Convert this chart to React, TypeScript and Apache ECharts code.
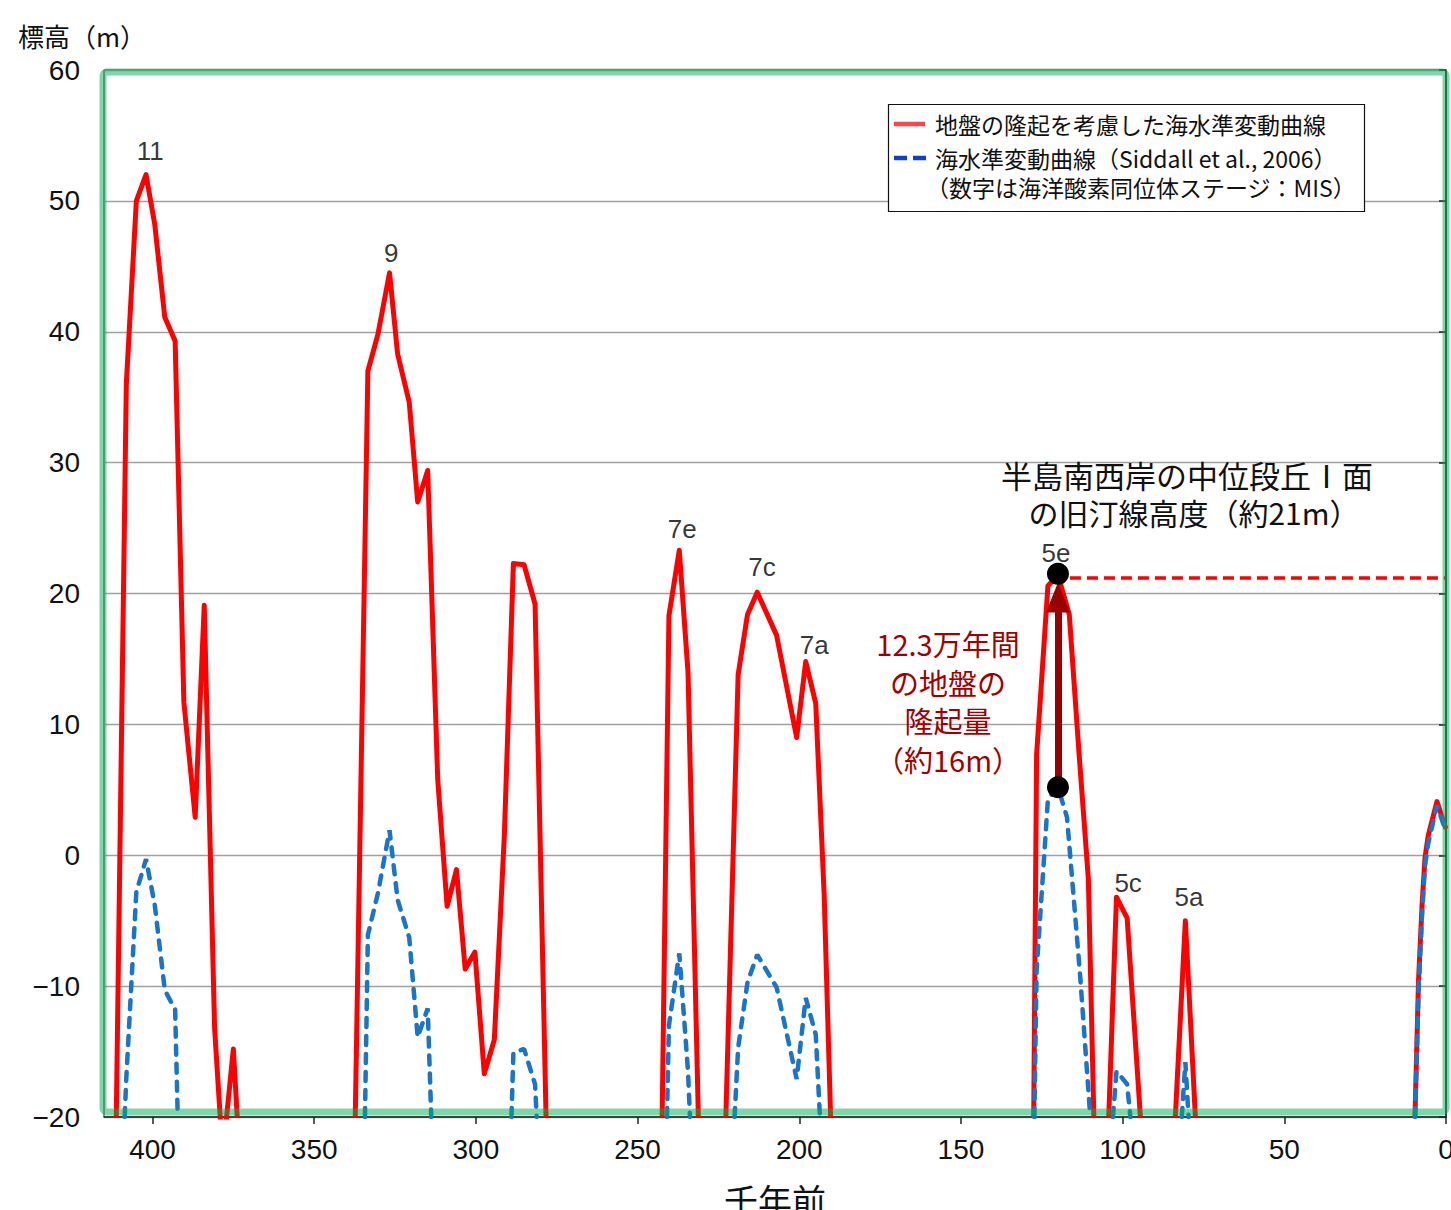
import React, { useEffect, useRef } from 'react';
import * as echarts from 'echarts';

// ---- data (age in thousand years ago, level in m) ----
const xTickValues = [0, 50, 100, 150, 200, 250, 300, 350, 400];
const yTickValues = [-20, -10, 0, 10, 20, 30, 40, 50, 60];

// sea-level curve corrected for ground uplift (null = gap)
const redAges = [
  411.2, 408.1, 405.0, 402.0, 399.3, 396.2, 393.0, 390.3, 386.8, 384.0, 380.8, 378.3, 375.0, 373.8, 355,
  337.3, 333.4, 330.3, 326.7, 324.2, 320.6, 318.0, 314.9, 311.8, 308.9, 306.0, 303.3, 300.3, 297.4, 294.3, 291.2, 288.4, 285.1, 281.7, 278.3, 260,
  242.4, 240.3, 237.1, 234.4, 231.2, 227,
  222.7, 218.9, 216.0, 213.0, 207.0, 200.8, 198.0, 194.9, 192.3, 190.3, 160,
  127.5, 126.6, 123.1, 120.0, 116.5, 113.6, 110.6, 108.9, 106,
  104.3, 101.9, 98.6, 94.5, 90,
  83.7, 80.6, 77.5, 40,
  9.6, 8.5, 7.4, 6.5, 5.5, 2.8, 0,
];
const redLevels = [
  -20, 36.0, 50.0, 52.0, 48.2, 41.1, 39.3, 11.7, 2.9, 19.1, -13.2, -23, -14.8, -20, null,
  -20, 37.0, 39.8, 44.5, 38.3, 34.6, 27.0, 29.4, 5.8, -3.9, -1.1, -8.7, -7.4, -16.7, -14.1, 1.5, 22.3, 22.2, 19.2, -20, null,
  -20, 18.3, 23.3, 14.0, -20, null,
  -20, 13.8, 18.4, 20.1, 16.8, 9.0, 14.8, 11.6, -3.0, -20, null,
  -20, 7.7, 20.6, 21.4, 18.4, 8.2, -1.8, -20, null,
  -20, -3.2, -4.8, -20, null,
  -20, -5.0, -20, null,
  -20, -9.6, -3.8, -0.2, 1.5, 4.1, 2.0,
];

// sea-level curve (Siddall et al., 2006)
const blueAges = [
  408.6, 408.1, 405.0, 402.0, 399.3, 396.2, 393.0, 392.2, 360,
  334.3, 333.4, 330.3, 326.7, 324.2, 320.6, 318.0, 314.9, 313.8, 300,
  289.0, 288.4, 285.1, 281.7, 281.2, 260,
  240.9, 240.3, 237.1, 234.4, 233.8, 226,
  220.0, 218.9, 216.0, 213.0, 207.0, 200.8, 198.0, 194.9, 193.6, 160,
  127.3, 126.6, 123.1, 120.0, 117.2, 113.2, 110.0, 106,
  103.0, 101.9, 98.6, 97.6, 90,
  81.7, 80.6, 79.6, 40,
  9.6, 8.5, 7.4, 6.5, 5.5, 2.8, 0,
];
const blueLevels = [
  -20, -17.0, -2.8, -0.3, -3.8, -10.3, -11.8, -20, null,
  -20, -6.1, -2.9, 1.9, -3.4, -6.3, -13.9, -11.7, -20, null,
  -20, -15.1, -14.8, -17.5, -20, null,
  -20, -13.0, -7.5, -16.5, -20, null,
  -20, -14.7, -9.7, -7.6, -10.1, -17.1, -10.9, -13.7, -20, null,
  -20, -8.8, 4.3, 5.2, 2.9, -9.0, -20, null,
  -20, -16.5, -17.5, -20, null,
  -20, -15.8, -20, null,
  -20, -10.4, -4.5, -0.8, 0.9, 3.8, 1.8,
];

// MIS stage labels
const misNames = ['11', '9', '7e', '7c', '7a', '5e', '5c', '5a'];
const misAges = [400.7, 326.2, 236.2, 211.5, 195.4, 120.6, 98.3, 79.5];
const misLevels = [53.8, 46.0, 24.9, 22.0, 16.1, 23.1, -2.1, -3.2];

// MIS 5e uplift annotation
const upliftAge = 120;
const upliftFrom = 5.2;
const upliftTo = 21.5;
const arrowHeadLevel = 19.7;
const shorelineLevel = 21.2;
const shorelineStartAge = 116.3;

const legendNames = [
  '地盤の隆起を考慮した海水準変動曲線',
  '海水準変動曲線（Siddall et al., 2006）',
  '（数字は海洋酸素同位体ステージ：MIS）',
];
const terraceLines = ['半島南西岸の中位段丘Ⅰ面', 'の旧汀線高度（約21m）'];
const upliftLines = ['12.3万年間', 'の地盤の', '隆起量', '（約16m）'];

const CJK = '"Noto Sans CJK JP", "Noto Sans", sans-serif';
const NUM = '"Liberation Sans", Arial, sans-serif';

function pairs(ages: number[], levels: (number | null)[]) {
  return ages.map((a, i) => [a, levels[i]]);
}

export default function App() {
  const ref = useRef<HTMLDivElement>(null);
  useEffect(() => {
    if (!ref.current) return;
    const chart = echarts.init(ref.current, null, { renderer: 'svg' });
    const graphic: any[] = [
      {
        type: 'text', x: 18, y: 35, z: 60,
        style: { text: '標高（m）', fill: '#111', font: `26px ${CJK}`, align: 'left', verticalAlign: 'middle', lineHeight: 28 },
      },
      {
        type: 'text', x: 775, y: 1199, z: 60,
        style: { text: '千年前', fill: '#111', font: `34px ${CJK}`, align: 'center', verticalAlign: 'middle', lineHeight: 36 },
      },
      {
        type: 'rect', z: 50, silent: true,
        shape: { x: 103, y: 72, width: 1343, height: 1040, r: 4 },
        style: { fill: 'none', stroke: 'rgba(0,176,84,0.5)', lineWidth: 7 },
      },
      // legend
      {
        type: 'rect', z: 60,
        shape: { x: 888.5, y: 104.5, width: 476, height: 107 },
        style: { fill: '#fff', stroke: '#111', lineWidth: 1.2 },
      },
      {
        type: 'line', z: 61,
        shape: { x1: 894, y1: 124, x2: 925, y2: 124 },
        style: { stroke: '#ff4545', lineWidth: 4.5 },
      },
      {
        type: 'line', z: 61,
        shape: { x1: 894, y1: 158, x2: 926, y2: 158 },
        style: { stroke: '#0d3fd2', lineWidth: 4.5, lineDash: [13, 6] },
      },
      ...legendNames.map((t, i) => ({
        type: 'text', x: i === 2 ? 926 : 935, y: [124, 158, 187][i], z: 61,
        style: { text: t, fill: '#111', font: `23px ${CJK}`, align: 'left', verticalAlign: 'middle', lineHeight: 25 },
      })),
      ...terraceLines.map((t, i) => ({
        type: 'text', x: i === 0 ? 1187 : 1194, y: 474 + i * 38, z: 60,
        style: { text: t, fill: '#111', font: `${i === 0 ? 31 : 30}px ${CJK}`, align: 'center', verticalAlign: 'middle', lineHeight: 33 },
      })),
      ...upliftLines.map((t, i) => ({
        type: 'text', x: 948, y: 643 + i * 38.5, z: 60,
        style: { text: t, fill: '#a00000', font: `29px ${CJK}`, align: 'center', verticalAlign: 'middle', lineHeight: 32 },
      })),
    ];

    const option: any = {
      animation: false,
      backgroundColor: '#fff',
      grid: {
        left: 104, top: 70, right: 5, bottom: 93,
        show: true, borderColor: '#222', borderWidth: 1,
        containLabel: false, outerBoundsMode: 'none',
      },
      xAxis: {
        type: 'value', min: 0, max: 415, interval: 50, inverse: true,
        axisLine: { show: true, onZero: false, lineStyle: { color: '#222', width: 1.5 } },
        axisTick: { show: true, inside: false, length: 7, lineStyle: { color: '#222', width: 1.5 }, customValues: xTickValues },
        axisLabel: {
          fontSize: 28, color: '#111', fontFamily: NUM, margin: 18,
          customValues: xTickValues,
          hideOverlap: false,
          formatter: (v: number) => (v % 50 === 0 ? String(v) : ''),
        },
        splitLine: { show: false },
      },
      yAxis: {
        type: 'value', min: -20, max: 60, interval: 10,
        axisLine: { show: true, lineStyle: { color: '#222', width: 1.5 } },
        axisTick: { show: true, inside: false, length: 7, lineStyle: { color: '#222', width: 1.5 } },
        axisLabel: {
          fontSize: 28, color: '#111', fontFamily: NUM, margin: 24,
          customValues: yTickValues,
          formatter: (v: number) => (v < 0 ? '\u2212' + Math.abs(v) : String(v)),
        },
        splitLine: { show: true, lineStyle: { color: '#a0a0a0', width: 1.4 } },
      },
      graphic,
      series: [
        {
          name: legendNames[0], type: 'line', data: pairs(redAges, redLevels),
          showSymbol: false, symbol: 'none', connectNulls: false, clip: true, z: 2,
          lineStyle: { color: '#ff0000', width: 5, join: 'round' },
          emphasis: { disabled: true },
        },
        {
          name: legendNames[1], type: 'line', data: pairs(blueAges, blueLevels),
          showSymbol: false, symbol: 'none', connectNulls: false, clip: true, z: 3,
          lineStyle: { color: '#1a74c8', width: 4.5, type: [9, 9], cap: 'round' },
          emphasis: { disabled: true },
        },
        {
          type: 'scatter', z: 5, clip: false,
          data: [[upliftAge, upliftTo], [upliftAge, upliftFrom]],
          symbol: 'circle', symbolSize: 22, itemStyle: { color: '#000', opacity: 1 },
          emphasis: { disabled: true },
        },
        {
          type: 'line', z: 6, data: [], clip: false,
          markLine: {
            silent: true, animation: false, label: { show: false },
            emphasis: { disabled: true },
            symbol: ['none', 'none'],
            data: [
              [
                { coord: [shorelineStartAge, shorelineLevel], symbol: 'none', lineStyle: { color: '#ff0000', width: 3.5, type: [11, 6] } },
                { coord: [0, shorelineLevel], symbol: 'none' },
              ],
              [
                { coord: [upliftAge, upliftFrom], symbol: 'none', lineStyle: { color: '#990000', width: 7, type: 'solid' } },
                { coord: [upliftAge, arrowHeadLevel], symbol: 'triangle', symbolSize: [24, 30] },
              ],
            ],
          },
        },
        {
          type: 'scatter', z: 7, clip: false,
          data: misNames.map((n, i) => ({ name: n, value: [misAges[i], misLevels[i]] })),
          symbol: 'circle', symbolSize: 1, itemStyle: { color: 'rgba(0,0,0,0)' },
          label: { show: true, position: 'inside', formatter: '{b}', fontSize: 26, color: '#000', fontFamily: NUM },
          emphasis: { disabled: true },
        },
      ],
    };
    chart.setOption(option);
    return () => chart.dispose();
  }, []);
  return (
    <div
      ref={ref}
      style={{ position: 'absolute', left: 0, top: 0, width: 1451, height: 1210, background: '#fff' }}
    />
  );
}
